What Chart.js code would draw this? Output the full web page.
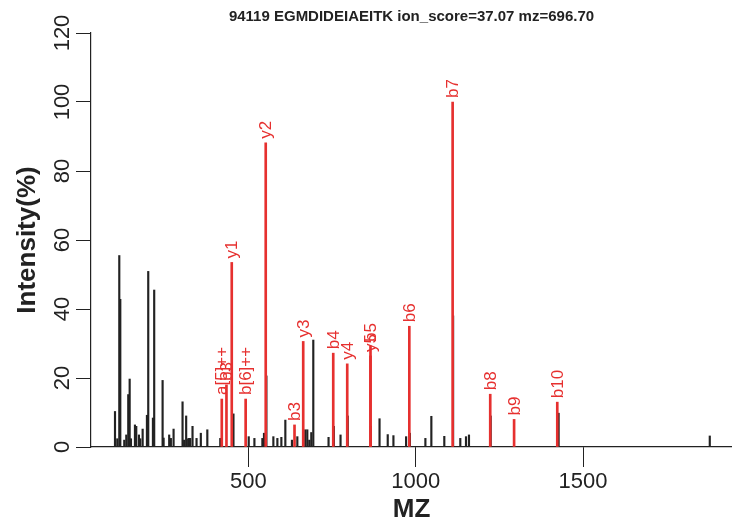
<!DOCTYPE html>
<html>
<head>
<meta charset="utf-8">
<script src="https://cdn.jsdelivr.net/npm/chart.js@4/dist/chart.umd.min.js"></script>
<style>
  body { margin: 0; background: #fff; }
  #wrap { width: 732px; height: 530px; }
</style>
</head>
<body>
<div id="wrap"><canvas id="grafico" width="732" height="530"></canvas></div>
<script>
// peaks (m/z, relative intensity %)
const picoMz = [101.7, 108.5, 114.5, 117.5, 129.4, 135.4, 141.3, 145.5, 149.4, 161.3,
    165.2, 173.2, 177.1, 184.3, 197.1, 201.0, 215.0, 218.8, 243.9, 246.9,
    263.6, 268.6, 276.7, 303.5, 308.3, 314.3, 320.2, 323.2, 326.2, 333.3,
    345.3, 358.1, 377.5, 416.2, 455.6, 501.2, 518.2, 542.0, 546.8, 554.0,
    574.8, 586.8, 598.7, 610.6, 630.3, 646.4, 670.2, 676.2, 682.2, 688.1,
    694.1, 739.7, 755.5, 775.5, 797.0, 866.0, 892.0, 916.5, 933.5, 971.4,
    982.7, 1029.0, 1046.8, 1085.5, 1111.8, 1133.3, 1150.3, 1159.2, 1224.0, 1427.0,
    1878.6];
const picoInt = [10.3, 2.4, 55.5, 42.8, 2.0, 3.5, 15.2, 19.7, 2.4, 6.4,
    6.0, 3.5, 2.4, 5.2, 9.2, 50.9, 8.4, 45.5, 19.3, 2.6,
    3.5, 2.5, 5.2, 13.1, 2.0, 9.0, 2.4, 2.5, 2.5, 6.0,
    2.5, 4.0, 5.0, 2.5, 9.6, 3.0, 2.5, 2.5, 4.0, 20.6,
    3.0, 2.5, 2.8, 7.8, 2.0, 3.0, 5.0, 5.0, 2.0, 4.2,
    31.0, 2.8, 6.0, 3.5, 9.0, 6.0, 8.2, 3.6, 3.3, 3.0,
    4.0, 2.5, 8.9, 3.1, 38.0, 2.5, 3.0, 3.5, 9.0, 9.8,
    3.2];

// annotated ions
const ionMz = [420.7, 434.7, 450.5, 492.0, 552.0, 638.0, 664.0, 753.7, 795.5, 865.0,
    865.0, 981.0, 1110.4, 1222.7, 1294.0, 1423.0];
const ionInt = [13.9, 18.0, 53.5, 13.9, 88.2, 6.4, 30.6, 27.2, 24.1, 26.4,
    29.3, 35.0, 100.0, 15.3, 8.0, 13.0];
const ionRotulos = ["a[5]++", "b3", "y1", "b[6]++", "y2", "b3", "y3", "b4", "y4", "y5",
    "b5", "b6", "b7", "b8", "b9", "b10"];

const ticksX = [500, 1000, 1500];
const ticksY = [0, 20, 40, 60, 80, 100, 120];

const titulo = "94119 EGMDIDEIAEITK ion_score=37.07 mz=696.70";
const tituloX = "MZ";
const tituloY = "Intensity(%)";

const VERMELHO = "#e6302f";
const FONTE = "'Liberation Sans', Arial, sans-serif";

// textos desenhados com as escalas do proprio grafico
const textosPlugin = {
    id: "textos",
    afterDraw(chart) {
        const ctx = chart.ctx;
        const x = chart.scales.x;
        const y = chart.scales.y;
        const area = chart.chartArea;

        ctx.save();
        ctx.fillStyle = "#222";

        // rotulos do eixo y (verticais, como no R)
        ctx.font = "22px " + FONTE;
        ctx.textAlign = "center";
        ctx.textBaseline = "middle";
        ticksY.forEach(v => {
            ctx.save();
            ctx.translate(63, y.getPixelForValue(v));
            ctx.rotate(-Math.PI / 2);
            ctx.fillText(String(v), 0, 0);
            ctx.restore();
        });

        // rotulos do eixo x
        ticksX.forEach(v => {
            ctx.fillText(String(v), x.getPixelForValue(v), 482);
        });

        // titulos dos eixos
        ctx.font = "bold 26px " + FONTE;
        ctx.fillText(tituloX, (area.left + area.right) / 2, 510);
        ctx.save();
        ctx.translate(28, (area.top + area.bottom) / 2);
        ctx.rotate(-Math.PI / 2);
        ctx.fillText(tituloY, 0, 0);
        ctx.restore();

        // titulo principal
        ctx.font = "bold 15px " + FONTE;
        ctx.fillText(titulo, (area.left + area.right) / 2, 17);

        // nomes dos ions acima dos picos
        ctx.fillStyle = VERMELHO;
        ctx.font = "17px " + FONTE;
        ctx.textAlign = "left";
        ionMz.forEach((m, i) => {
            ctx.save();
            ctx.translate(x.getPixelForValue(m) + 1, y.getPixelForValue(ionInt[i]) - 4);
            ctx.rotate(-Math.PI / 2);
            ctx.fillText(ionRotulos[i], 0, 0);
            ctx.restore();
        });

        ctx.restore();
    }
};

const ctxGrafico = document.getElementById("grafico").getContext("2d");

new Chart(ctxGrafico, {

    type: "bar",

    data: {
        datasets: [
            {
                label: "ions",
                data: ionMz.map((m, i) => ({ x: m, y: ionInt[i] })),
                backgroundColor: VERMELHO,
                barThickness: 2,
                grouped: false,
                order: 0
            },
            {
                label: "picos",
                data: picoMz.map((m, i) => ({ x: m, y: picoInt[i] })),
                backgroundColor: "#222",
                barThickness: 1.5,
                grouped: false,
                order: 1
            }
        ]
    },

    options: {
        responsive: false,
        animation: false,
        devicePixelRatio: 1,
        layout: {
            padding: { left: 76, right: 0, top: 33, bottom: 63 }
        },
        plugins: {
            legend: { display: false },
            tooltip: { enabled: false }
        },
        scales: {
            x: {
                type: "linear",
                min: 30,
                max: 1945,
                offset: false,
                afterBuildTicks: s => { s.ticks = ticksX.map(v => ({ value: v })); },
                ticks: { display: false },
                grid: {
                    drawOnChartArea: false,
                    drawTicks: true,
                    tickLength: 20,
                    color: "#222",
                    offset: false
                },
                border: { color: "#222", width: 1.2 }
            },
            y: {
                min: 0,
                max: 120,
                afterBuildTicks: s => { s.ticks = ticksY.map(v => ({ value: v })); },
                ticks: { display: false },
                grid: {
                    drawOnChartArea: false,
                    drawTicks: true,
                    tickLength: 15,
                    color: "#222"
                },
                border: { color: "#222", width: 1.2 }
            }
        }
    },

    plugins: [textosPlugin]

});
</script>
</body>
</html>
